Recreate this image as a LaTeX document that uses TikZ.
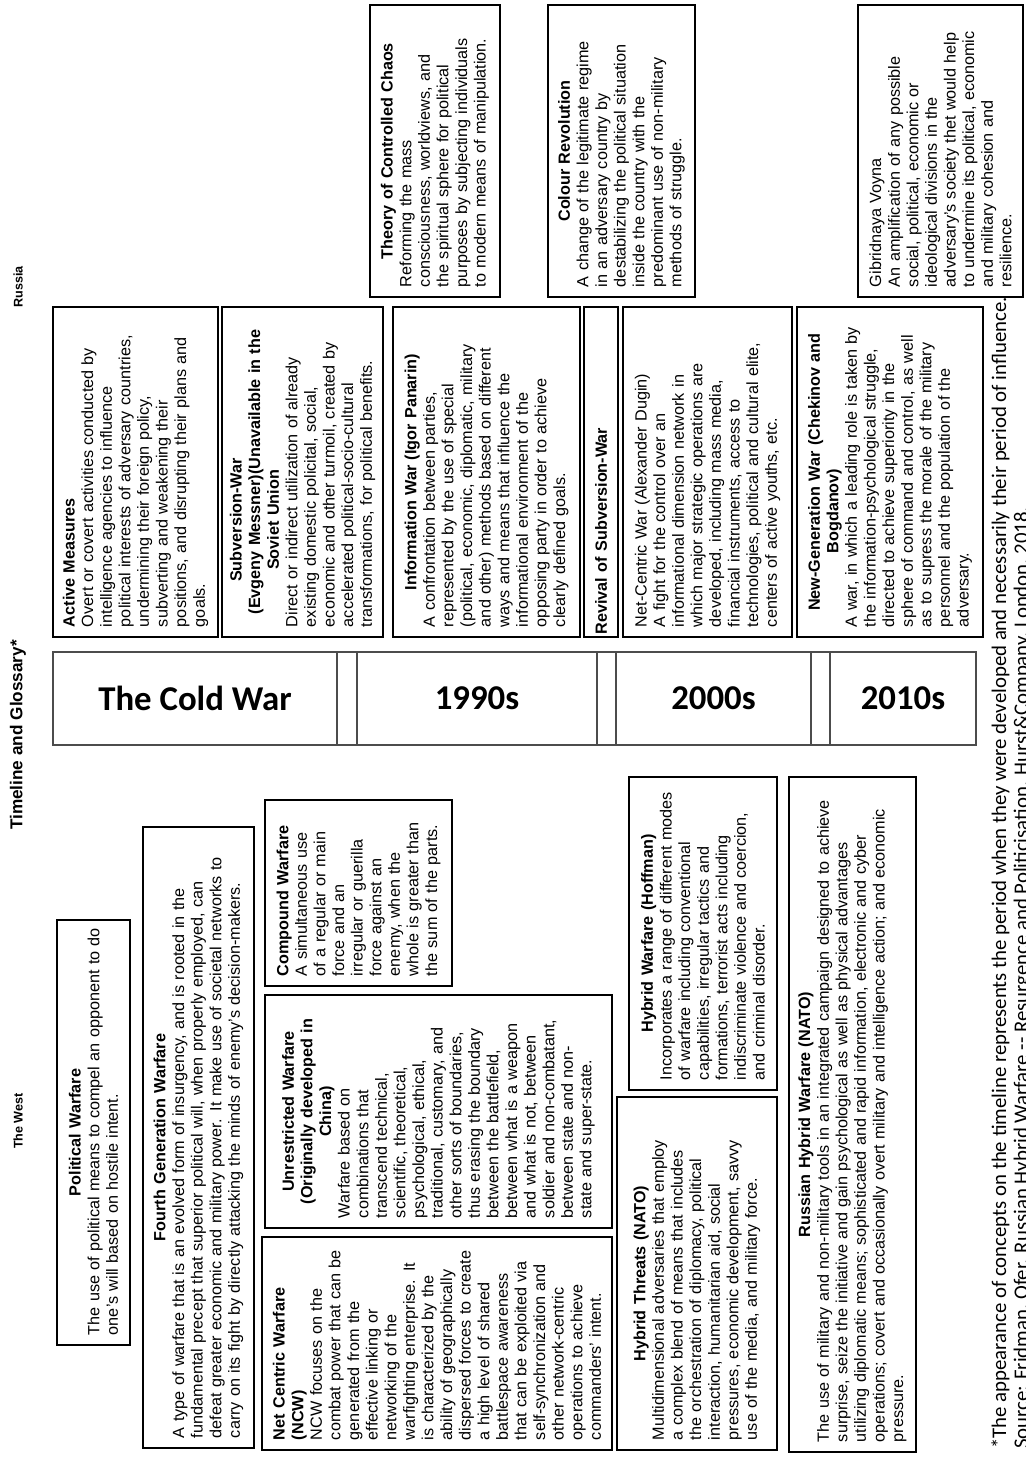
\documentclass[tikz,border=0pt]{standalone}
\usepackage{fontspec}
\setmainfont{Liberation Sans}
\newfontfamily\calfont{Carlito}
\usetikzlibrary{positioning}

\newcommand{\boxtitle}[2][0pt]{\makebox[\dimexpr\linewidth-#1\relax]{\bfseries #2}}

\begin{document}
\begin{tikzpicture}[x=0.5pt, y=-0.5pt,
  gbox/.style 2 args={draw, line width=1pt, rotate=90, align=left,
    inner xsep=5pt, inner ysep=2pt, minimum width=#1, text width=#1-10pt,
    minimum height=#2, font=\fontsize{8.1}{9.3}\selectfont},
  cell/.style={draw=black!70, line width=0.6pt, outer sep=0pt, inner sep=0pt,
    minimum height=46.5pt, font=\calfont\bfseries\fontsize{17.4}{20}\selectfont},
  side/.style={rotate=90, font=\bfseries\fontsize{6.3}{7.5}\selectfont},
  foot/.style={rotate=90, anchor=base west, font=\calfont\fontsize{10.4}{12}\selectfont}]
\clip (0,0) rectangle (1025,1458);
\fill[white] (0,0) rectangle (1025,1458);

% headings
\node[side] (russia) at (18,287) {Russia};
\node[side] (west) at (18,1121) {The West};
\node[rotate=90, font=\bfseries\fontsize{8.6}{10}\selectfont] (title) at (18,735) {Timeline and Glossary*};

% timeline band
\node[cell, minimum width=142pt] (cold) at (195,698.5) {The Cold War};
\node[cell, minimum width=10pt, right=0pt of cold] (gapa) {};
\node[cell, minimum width=120pt, right=0pt of gapa] (nineties) {1990s};
\node[cell, minimum width=9.5pt, right=0pt of nineties] (gapb) {};
\node[cell, minimum width=97.5pt, right=0pt of gapb] (noughties) {2000s};
\node[cell, minimum width=9.5pt, right=0pt of noughties] (gapc) {};
\node[cell, minimum width=73pt, right=0pt of gapc] (tens) {2010s};

% Russia, outer row
\node[gbox={146pt}{65pt}] (chaos) at (435,151) {\boxtitle{Theory of Controlled Chaos}\\
  Reforming the mass\\ consciousness, worldviews, and\\ the spiritual sphere for political\\
  purposes by subjecting individuals\\ to modern means of manipulation.};
\node[gbox={146pt}{73.5pt}] (colour) at (621.5,151) {\boxtitle{Colour Revolution}\\
  A change of the legitimate regime\\ in an adversary country by\\
  destabilizing the political situation\\ inside the country with the\\
  predominant use of non-military\\ methods of struggle.};
\node[gbox={146pt}{82.5pt}] (gibrid) at (940.5,151) {Gibridnaya Voyna\\
  An amplification of any possible\\ social, political, economic or\\
  ideological divisions in the\\ adversary's society thet would help\\
  to undermine its political, economic\\ and military cohesion and\\ resilience.};

% Russia, next to the timeline
\node[gbox={165pt}{82.5pt}] (active) at (135.5,472) {\textbf{Active Measures}\\
  Overt or covert activities conducted by\\ intelligence agencies to influence\\
  political interests of adversary countries,\\ undermining their foreign policy,\\
  subverting and weakening their\\ positions, and disrupting their plans and\\ goals.};
\node[gbox={165pt}{80.5pt}] (subwar) at (302.5,472) {\boxtitle[48pt]{Subversion-War}\\
  \boxtitle{(Evgeny Messner)(Unavailable in the}\\ \boxtitle[48pt]{Soviet Union}\\
  Direct or indirect utilization of already\\ existing domestic policital, social,\\
  economic and other turmoil, created by\\ accelerated political-socio-cultural\\
  transformations, for political benefits.};
\node[gbox={165pt}{93.5pt}] (infowar) at (486.5,472) {\boxtitle{Information War (Igor Panarin)}\\
  A confrontation between parties,\\ represented by the use of special\\
  (political, economic, diplomatic, military\\ and other) methods based on different\\
  ways and means that influence the\\ informational environment of the\\
  opposing party in order to achieve\\ clearly defined goals.};
\node[gbox={165pt}{17pt}] (revival) at (601,472) {\boxtitle[59pt]{Revival of Subversion-War}};
\node[gbox={165pt}{84.5pt}] (netwar) at (707.5,472) {Net-Centric War (Alexander Dugin)\\
  A fight for the control over an\\ informational dimension network in\\
  which major strategic operations are\\ developed, including mass media,\\
  financial instruments, access to\\ technologies, political and cultural elite,\\
  centers of active youths, etc.};
\node[gbox={165pt}{93pt}] (newgen) at (890,472) {\boxtitle{New-Generation War (Chekinov and}\\
  \boxtitle[39pt]{Bogdanov)}\\
  A war, in which a leading role is taken by\\ the information-psychological struggle,\\
  directed to achieve superiority in the\\ sphere of command and control, as well\\
  as to supress the morale of the military\\ personnel and the population of the\\ adversary.};

% the West
\node[gbox={212.5pt}{36.5pt}] (polwar) at (93.5,1132.5) {\boxtitle{Political Warfare}\\
  \mbox{The use of political means to compel an opponent to do}\\ one's will based on hostile intent.};
\node[gbox={310.5pt}{55.5pt}] (fourth) at (198.5,1137.5) {\boxtitle{Fourth Generation Warfare}\\
  A type of warfare that is an evolved form of insurgency, and is rooted in the\\
  fundamental precept that superior political will, when properly employed, can\\
  defeat greater economic and military power. It make use of societal networks to\\
  carry on its fight by directly attacking the minds of enemy's decision-makers.};
\node[gbox={93pt}{93.5pt}] (compound) at (358.5,893) {\textbf{Compound Warfare}\\
  A simultaneous use\\ of a regular or main\\ force and an\\ irregular or guerilla\\
  force against an\\ enemy, when the\\ whole is greater than\\ the sum of the parts.};
\node[gbox={116.5pt}{173.5pt}] (unrestr) at (438.5,1111.5) {\boxtitle{Unrestricted Warfare}\\
  \boxtitle{(Originally developed in}\\ \boxtitle{China)}\\
  Warfare based on\\ combinations that\\ transcend technical,\\ scientific, theoretical,\\
  psychological, ethical,\\ traditional, customary, and\\ other sorts of boundaries,\\
  thus erasing the boundary\\ between the battlefield,\\ between what is a weapon\\
  and what is not, between\\ soldier and non-combatant,\\ between state and non-\\
  state and super-state.};
\node[gbox={106.5pt}{175pt}] (ncw) at (437,1343.5) {\textbf{Net Centric Warfare}\\ \textbf{(NCW)}\\
  NCW focuses on the\\ combat power that can be\\ generated from the\\ effective linking or\\
  networking of the\\ warfighting enterprise. It\\ is characterized by the\\
  ability of geographically\\ dispersed forces to create\\ a high level of shared\\
  battlespace awareness\\ that can be exploited via\\ self-synchronization and\\
  other network-centric\\ operations to achieve\\ commanders' intent.};
\node[gbox={156.5pt}{74pt}] (hoffman) at (703,933.5) {\boxtitle{Hybrid Warfare (Hoffman)}\\
  Incorporates a range of different modes\\ of warfare including conventional\\
  capabilities, irregular tactics and\\ formations, terrorist acts including\\
  indiscriminate violence and coercion,\\ and criminal disorder.};
\node[gbox={176.5pt}{80pt}] (threats) at (697,1273.5) {\boxtitle{Hybrid Threats (NATO)}\\
  Multidimensional adversaries that employ\\ a complex blend of means that includes\\
  the orchestration of diplomacy, political\\ interaction, humanitarian aid, social\\
  pressures, economic development, savvy\\ use of the media, and military force.};
\node[gbox={337.5pt}{63.5pt}] (ruhybrid) at (852.5,1114.5) {\boxtitle{Russian Hybrid Warfare (NATO)}\\
  The use of military and non-military tools in an integrated campaign designed to achieve\\
  surprise, seize the initiative and gain psychological as well as physical advantages\\
  utilizing diplomatic means; sophisticated and rapid information, electronic and cyber\\
  operations; covert and occasionally overt military and intelligence action; and economic\\
  pressure.};

% footnote
\node[foot] (note) at (1006,1456) {*The appearance of concepts on the timeline represents the period when they were developed and necessarily their period of influence.};
\node[foot] (source) at (1028,1456) {Source: Fridman, Ofer. Russian Hybrid Warfare -- Resurgence and Politicisation. Hurst\&Company, London, 2018.};
\end{tikzpicture}
\end{document}
